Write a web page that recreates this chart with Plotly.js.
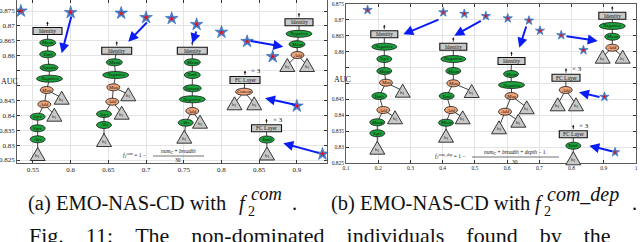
<!DOCTYPE html>
<html><head><meta charset="utf-8">
<script src="https://cdn.plot.ly/plotly-3.0.1.min.js"></script>
<style>html,body{margin:0;padding:0;background:#fff}#chart{width:640px;height:242px}</style>
</head><body><div id="chart"></div>
<script>
// ---------- data ----------
const leftX = [0.534, 0.600, 0.667, 0.700, 0.734, 0.767, 0.800, 0.834, 0.868, 0.900, 0.934];
const leftY = [0.8750, 0.8745, 0.8743, 0.8728, 0.8725, 0.8705, 0.8679, 0.8648, 0.8597, 0.8431, 0.8270];
const rightX = [0.167, 0.402, 0.467, 0.534, 0.602, 0.668, 0.702, 0.768, 0.837, 0.902, 0.935];
const rightY = [0.8731, 0.8724, 0.8719, 0.8712, 0.8705, 0.8698, 0.8666, 0.8652, 0.8605, 0.8458, 0.8284];
const yTickVals = [0.825, 0.83, 0.835, 0.84, 0.845, 0.85, 0.855, 0.86, 0.865, 0.87, 0.875];
const yTickText = ['0.825', '0.83', '0.835', '0.84', '0.845', '', '', '0.86', '0.865', '0.87', '0.875'];
const leftXTicks = [0.55, 0.6, 0.65, 0.7, 0.75, 0.8, 0.85, 0.9];
const leftXText = ['0.55', '0.6', '0.65', '0.7', '0.75', '0.8', '0.85', '0.9'];
const rightXTicks = [0.1, 0.2, 0.3, 0.4, 0.5, 0.6, 0.7, 0.8, 0.9, 1];
const rightXText = ['0.1', '0.2', '0.3', '0.4', '0.5', '0.6', '0.7', '0.8', '0.9', '1'];

// ---------- decoration (trees, in page pixels) ----------
const W = 640, H = 242;
const P = (x) => x / W, Q = (y) => 1 - y / H;
const SERIF = 'Liberation Serif, DejaVu Serif, serif';
const shapes = [], ann = [];

const trees = [
  {n: [['r',47.5,31,29,'Identity'],['g',47.7,42.7,16,'Mean'],['g',47.7,54.3,16,'Tanh'],['g',49,67.7,18,'Square'],['g',49.5,78.7,26,'Negative'],['o',46.7,90,13,'Max'],['t',61.7,97.7],['o',44.3,104.3,13,'Add'],['t',54.3,114.7],['g',37.7,116.7,15,'Sqrt'],['g',37.7,128.3,15,'Sqrt'],['g',37.7,139.3,15,'Abs'],['t',37.7,154]],
   e: [[0,1],[1,2],[2,3],[3,4],[4,5],[5,6],[5,7],[7,8],[7,9],[9,10],[10,11],[11,12]]},
  {n: [['r',116.7,50.7,30,'Identity'],['g',114.3,62.3,16,'Mean'],['g',115.7,75,26,'Negative'],['o',113.3,87.3,13,'Max'],['t',128.3,94.3],['o',112.3,101.7,13,'Add'],['t',121.7,112.7],['g',104,114,15,'Sqrt'],['g',104,125,15,'Abs'],['t',104,140]],
   e: [[0,1],[1,2],[2,3],[3,4],[3,5],[5,6],[5,7],[7,8],[8,9]]},
  {n: [['r',192.3,50.7,30,'Identity'],['g',192.3,62.3,16,'Mean'],['g',192.3,75,16,'Tanh'],['g',192.3,88.3,18,'Square'],['g',192.3,99.3,26,'Negative'],['o',192.3,111,13,'Add'],['t',200,121.7],['g',185.7,122.7,15,'Abs'],['t',184.3,136.7]],
   e: [[0,1],[1,2],[2,3],[3,4],[4,5],[5,6],[5,7],[7,8]]},
  {n: [['r',299,22.3,28,'Identity'],['g',299,33.8,26,'Negative'],['g',297,44.2,16,'Mean'],['o',297.5,55,13,'Add'],['t',287.3,65],['t',307,65]],
   e: [[0,1],[1,2],[2,3],[3,4],[3,5]]},
  {n: [['r',245,80,30,'FC Layer',1],['o',244,91.7,17,'Concat'],['t',234.5,103.3],['t',254.2,103.3]],
   e: [[0,1],[1,2],[1,3]]},
  {n: [['r',266.5,128.3,30,'FC Layer',1],['g',266.7,139.5,15,'Tanh'],['t',267,153.5]],
   e: [[0,1],[1,2]]},
  {n: [['r',384.3,34.3,27,'Identity'],['g',384.3,46.7,25,'Negative'],['g',384.3,59,15,'Sqrt'],['g',384.3,71,15,'Mean'],['o',386,82.7,13,'Max'],['t',402.7,90.7],['g',379.3,96,15,'Tanh'],['o',383.3,110,13,'Add'],['t',395,117.3],['g',377.3,122.3,15,'Mean'],['g',377.3,133.3,15,'Sqrt'],['t',377.3,147.7]],
   e: [[0,1],[1,2],[2,3],[3,4],[4,5],[4,6],[6,7],[7,8],[7,9],[9,10],[10,11]]},
  {n: [['r',453.3,46.7,27,'Identity'],['g',453.3,59,25,'Negative'],['g',453.3,71,15,'Mean'],['o',453.3,83.3,13,'Max'],['t',471.7,91],['g',446.7,96,15,'Tanh'],['o',451,110,13,'Add'],['t',462.7,117.3],['g',446,122.7,15,'Mean'],['t',446,135.7]],
   e: [[0,1],[1,2],[2,3],[3,4],[3,5],[5,6],[6,7],[6,8],[8,9]]},
  {n: [['r',511.5,61,27,'Identity'],['g',511,74,15,'Mean'],['g',511.5,85,26,'Negative'],['o',511.5,96,13,'Max'],['t',526.7,107.3],['o',505,111.7,13,'Add'],['t',518.3,120.7],['t',499,127.3]],
   e: [[0,1],[1,2],[2,3],[3,4],[3,5],[5,6],[5,7]]},
  {n: [['r',612.3,15.7,27,'Identity'],['g',612.3,26,26,'Negative'],['g',612.3,36.7,15,'Mean'],['o',612.3,47.7,13,'Add'],['t',602.7,56.7],['t',622.7,56.7]],
   e: [[0,1],[1,2],[2,3],[3,4],[3,5]]},
  {n: [['r',566,77.7,28,'FC Layer',1],['o',565.7,90,13,'Add'],['t',557.7,104.3],['t',576,104.3]],
   e: [[0,1],[1,2],[1,3]]},
  {n: [['r',573.3,134.3,28,'FC Layer',1],['g',573.3,145.7,15,'Tanh'],['t',573.3,158.3]],
   e: [[0,1],[1,2]]}
];

const blueArrows = [
  [71.7,15,61.7,53.3],[148.3,21,128.3,41.7],[196.7,30,192.3,43.3],[249.3,40.7,283.3,46.7],[296.7,105,265,98.3],[320,153.3,283.3,143.3],
  [440,19,403.3,34.3],[482.3,20,454.3,35.7],[526.7,25,519.3,47.7],[565,36,597.7,41],[601,97.3,579,92.3],[613.3,151.7,589.3,145.7]
];

const lab = (x, y, t, s, extra) => ann.push(Object.assign({x: P(x), y: Q(y), xref: 'paper', yref: 'paper', text: t, showarrow: false,
  xanchor: 'center', yanchor: 'middle', borderpad: 0,
  font: {size: s, family: SERIF, color: '#111'}}, extra || {}));

trees.forEach(tr => {
  tr.e.forEach(([a, b]) => {
    const A = tr.n[a], B = tr.n[b];
    shapes.push({type: 'line', xref: 'paper', yref: 'paper', x0: P(A[1]), y0: Q(A[2]), x1: P(B[1]), y1: Q(B[2]), line: {color: '#111', width: 0.8}});
  });
  tr.n.forEach(nd => {
    const [t, cx, cy, w, l, fc] = nd;
    if (t === 'r') {
      const h = 7;
      shapes.push({type: 'rect', xref: 'paper', yref: 'paper', x0: P(cx - w/2), x1: P(cx + w/2), y0: Q(cy + h/2), y1: Q(cy - h/2), fillcolor: '#c9c9c9', line: {color: '#111', width: 1.1}});
      lab(cx, cy, l, 5.5);
      ann.push({x: P(cx), y: Q(cy - h/2 - 6), ax: 0, ay: 6, xref: 'paper', yref: 'paper', text: '', showarrow: true, arrowhead: 2, arrowsize: 0.6, arrowwidth: 0.8, arrowcolor: '#111'});
      if (fc) lab(cx + 11, cy - h/2 - 5, '× 3', 7);
    } else if (t === 'g' || t === 'o') {
      const h = 7;
      shapes.push({type: 'circle', xref: 'paper', yref: 'paper', x0: P(cx - w/2), x1: P(cx + w/2), y0: Q(cy + h/2), y1: Q(cy - h/2),
        fillcolor: t === 'g' ? '#1aa33a' : '#f2a479', line: {color: '#1a1a1a', width: 0.8}});
      lab(cx, cy, '<i>' + l + '</i>', 5);
    } else {
      const w2 = 7.5, h2 = 6.5;
      shapes.push({type: 'path', xref: 'paper', yref: 'paper', path: `M ${P(cx)},${Q(cy - h2)} L ${P(cx - w2)},${Q(cy + h2)} L ${P(cx + w2)},${Q(cy + h2)} Z`,
        fillcolor: '#c8c8c8', line: {color: '#222', width: 0.9}});
      lab(cx, cy + 2, 'h<sub>1</sub>', 5);
    }
  });
});

blueArrows.forEach(([x0, y0, x1, y1]) => ann.push({x: P(x1), y: Q(y1), ax: x0 - x1, ay: y0 - y1, xref: 'paper', yref: 'paper', text: '',
  showarrow: true, arrowhead: 2, arrowsize: 1, arrowwidth: 2, arrowcolor: '#0a1cf5'}));

// formulas
lab(134, 155.5, '<i>f</i><sub>2</sub><sup><i>com</i></sup> = 1 −', 5.5);
lab(178, 151.5, '<i>num<sub>C</sub></i> + <i>breadth</i>', 5.5);
lab(178, 160, '30', 5.5);
shapes.push({type: 'line', xref: 'paper', yref: 'paper', x0: P(153), x1: P(204), y0: Q(156), y1: Q(156), line: {color: '#111', width: 0.6}});
lab(450, 156.5, '<i>f</i><sub>2</sub><sup><i>com_dep</i></sup> = 1 −', 5.5);
lab(515, 152.5, '<i>num<sub>C</sub></i> + <i>breadth</i> + <i>depth</i> − 1', 5.5);
lab(515, 161.5, '30', 5.5);
shapes.push({type: 'line', xref: 'paper', yref: 'paper', x0: P(472), x1: P(559), y0: Q(157), y1: Q(157), line: {color: '#111', width: 0.6}});

// AUC labels
lab(9, 81, 'AUC', 8);
lab(342, 79, 'AUC', 8);

// captions
const CY = 203;
lab(27, CY, '(a) EMO-NAS-CD with', 20.5, {xanchor: 'left'});
lab(238, CY, '<i>f</i>', 20.5, {xanchor: 'left'});
lab(250, CY - 9, '<i>com</i>', 18.5, {xanchor: 'left'});
lab(247, CY + 8, '2', 14, {xanchor: 'left'});
lab(291, CY, '.', 20.5, {xanchor: 'left'});
lab(330, CY, '(b) EMO-NAS-CD with', 20.5, {xanchor: 'left'});
lab(534, CY, '<i>f</i>', 20.5, {xanchor: 'left'});
lab(546, CY - 9, '<i>com_dep</i>', 20, {xanchor: 'left'});
lab(543, CY + 8, '2', 14, {xanchor: 'left'});
lab(631, CY, '.', 20.5, {xanchor: 'left'});
const sp = '&nbsp;&nbsp;&nbsp;&nbsp;';
lab(320, 235, ['Fig.', '11:', 'The', 'non-dominated', 'individuals', 'found', 'by', 'the'].join(sp), 22);

// ---------- traces ----------
const star = (x, y, xa, ya, s1, s2) => [
  {x, y, xaxis: xa, yaxis: ya, type: 'scatter', mode: 'markers', marker: {symbol: 'star', size: s1, color: '#3f86d8', line: {color: '#2a5fb0', width: 0.6}}, hoverinfo: 'skip'},
  {x, y, xaxis: xa, yaxis: ya, type: 'scatter', mode: 'markers', marker: {symbol: 'star', size: s2, color: '#e0141e'}, hoverinfo: 'skip'}
];
const data = [...star(leftX, leftY, 'x', 'y', 9.5, 4.5), ...star(rightX, rightY, 'x2', 'y2', 7, 3.5)];

const axBase = {showline: true, linecolor: '#333', linewidth: 0.8, mirror: 'ticks', ticks: 'inside', ticklen: 3, tickcolor: '#333',
  showgrid: true, gridcolor: '#dddddd', gridwidth: 0.8, zeroline: false, tickmode: 'array', fixedrange: true};
const layout = {
  width: W, height: H, margin: {l: 0, r: 0, t: 0, b: 0}, paper_bgcolor: '#fff', plot_bgcolor: '#fff', showlegend: false,
  xaxis: Object.assign({}, axBase, {domain: [17/W, 327/W], range: [0.5288, 0.94], tickvals: leftXTicks, ticktext: leftXText, tickfont: {size: 7, family: SERIF, color: '#222'}}),
  yaxis: Object.assign({}, axBase, {domain: [1 - 163/H, 1], range: [0.824, 0.8787], tickvals: yTickVals, ticktext: yTickText, tickfont: {size: 7, family: SERIF, color: '#222'}}),
  xaxis2: Object.assign({}, axBase, {anchor: 'y2', domain: [346/W, 636/W], range: [0.1, 1], tickvals: rightXTicks, ticktext: rightXText, tickfont: {size: 5.5, family: SERIF, color: '#222'}}),
  yaxis2: Object.assign({}, axBase, {anchor: 'x2', domain: [1 - 163/H, 1 - 4/H], range: [0.825, 0.875], tickvals: yTickVals, ticktext: yTickText, tickfont: {size: 5.5, family: SERIF, color: '#222'}}),
  shapes, annotations: ann
};
Plotly.newPlot('chart', data, layout, {staticPlot: true, displayModeBar: false});
</script></body></html>
